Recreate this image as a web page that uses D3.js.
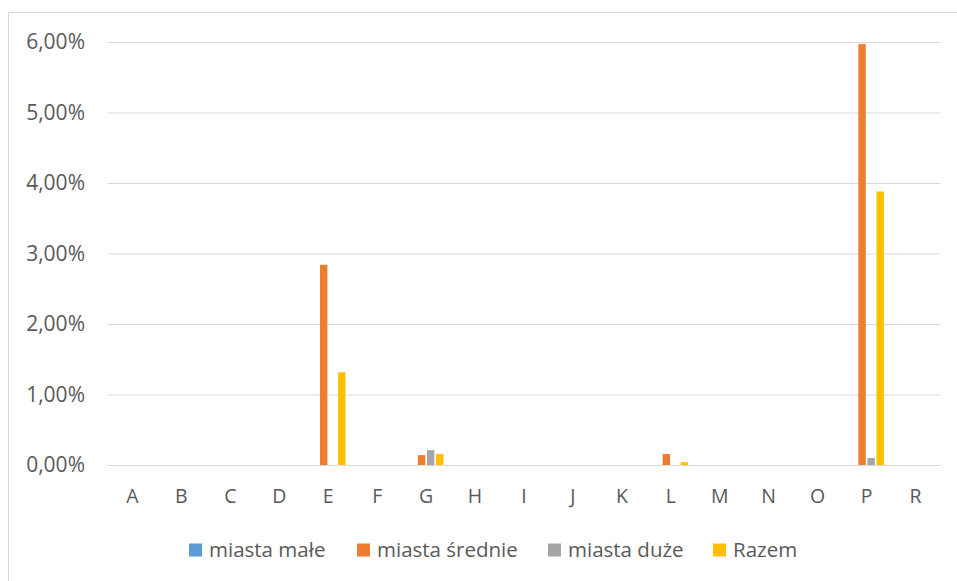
<!DOCTYPE html>
<html><head><meta charset="utf-8">
<script src="https://cdn.jsdelivr.net/npm/d3@7"></script>
<style>html,body{margin:0;padding:0;background:#fff;}svg{display:block;}</style>
</head><body>
<svg id="chart" width="957" height="581"></svg>
<script>
const categories = ["A","B","C","D","E","F","G","H","I","J","K","L","M","N","O","P","R"];
const seriesNames = ["miasta małe","miasta średnie","miasta duże","Razem"];
const seriesColors = ["#5b9bd5","#ed7d31","#a5a5a5","#ffc000"];
const miastaMale    = [0,0,0,0,0,0,0,0,0,0,0,0,0,0,0,0,0];
const miastaSrednie = [0,0,0,0,0.0284,0,0.0014,0,0,0,0,0.00155,0,0,0,0.0597,0];
const miastaDuze    = [0,0,0,0,0,0,0.0021,0,0,0,0,0,0,0,0,0.0010,0];
const razem         = [0,0,0,0,0.01315,0,0.00155,0,0,0,0,0.0004,0,0,0,0.0388,0];
const yTicks = [0,0.01,0.02,0.03,0.04,0.05,0.06];

(function(){
const seriesValues = [miastaMale, miastaSrednie, miastaDuze, razem];
const svg = d3.select("#chart");
const font = "'Open Sans', 'Noto Sans', sans-serif";
const textColor = "#595959";

// frame
svg.append("rect").attr("x",8.5).attr("y",12.5).attr("width",1000).attr("height",1000)
  .attr("fill","none").attr("stroke","#d9d9d9").attr("stroke-width",1);

const pLeft = 108, pRight = 940, pTop = 42, pBottom = 465;
const x0 = d3.scaleBand().domain(categories).range([pLeft,pRight]).paddingInner(0.293).paddingOuter(0.1465);
const x1 = d3.scaleBand().domain(d3.range(seriesNames.length)).range([0,x0.bandwidth()]).paddingInner(0.18);
const y = d3.scaleLinear().domain([0,0.06]).range([pBottom,pTop]);

const fmt = v => d3.format(".2f")(v*100).replace(".",",") + "%";

// gridlines + y labels
const yAxis = d3.axisLeft(y).tickValues(yTicks).tickSize(-(pRight-pLeft)).tickFormat(fmt).tickPadding(23);
const gy = svg.append("g").attr("transform",`translate(${pLeft},0)`).call(yAxis);
gy.select(".domain").remove();
gy.selectAll(".tick line").attr("stroke","#d9d9d9").attr("stroke-width",1);
gy.selectAll(".tick text").attr("fill",textColor).style("font-family",font).style("font-size","21px");

// bars
const groups = svg.append("g").selectAll("g").data(categories).join("g")
  .attr("transform",d=>`translate(${x0(d)},0)`);
groups.selectAll("rect").data((c,i)=>seriesValues.map((s,k)=>({k, v:s[i]})))
  .join("rect")
  .attr("x",d=>x1(d.k)).attr("width",x1.bandwidth())
  .attr("y",d=>y(d.v)).attr("height",d=>y(0)-y(d.v))
  .attr("fill",d=>seriesColors[d.k]);

// x axis labels
const xAxis = d3.axisBottom(x0).tickSize(0).tickPadding(24);
const gx = svg.append("g").attr("transform",`translate(0,${pBottom})`).call(xAxis);
gx.select(".domain").remove();
gx.selectAll(".tick text").attr("fill",textColor).style("font-family",font).style("font-size","19.5px");

// legend
const legendX = [189,357,548,713];
const legendY = 550;
const lg = svg.append("g").selectAll("g").data(seriesNames).join("g")
  .attr("transform",(d,i)=>`translate(${legendX[i]},${legendY})`);
lg.append("rect").attr("x",0).attr("y",-6.5).attr("width",13).attr("height",13).attr("fill",(d,i)=>seriesColors[i]);
lg.append("text").attr("x",20).attr("y",0).attr("dy","0.35em").text(d=>d)
  .attr("fill",textColor).style("font-family",font).style("font-size","20.5px");
})();
</script>
</body></html>
